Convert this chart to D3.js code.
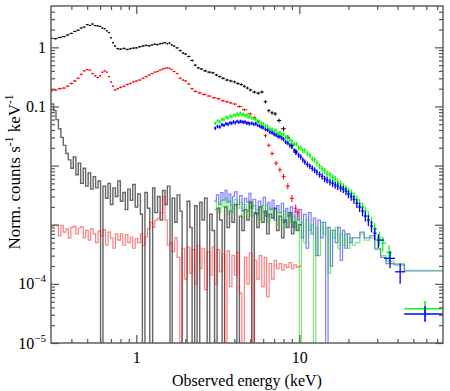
<!DOCTYPE html>
<html><head><meta charset="utf-8">
<script src="https://cdn.jsdelivr.net/npm/d3@7"></script>
<style>body{margin:0;background:#fff}svg{display:block}</style>
</head><body><svg id="c" width="450" height="391"></svg>
<script>
// ---------- DATA ----------
const blackE=[0.30,0.32,0.34,0.36,0.38,0.40,0.42,0.44,0.46,0.48,0.50,0.52,0.54,0.56,0.58,0.60,0.62,0.64,0.66,0.68,0.70,0.72,0.74,0.77,0.80,0.84,0.88,0.92,0.96,1.00,1.05,1.10,1.15,1.20,1.25,1.30,1.35,1.40,1.45,1.50,1.55,1.60,1.65,1.70,1.78,1.86,1.94,2.00,2.10,2.20,2.30,2.40,2.50,2.65,2.80,2.95,3.10,3.25,3.40,3.60,3.80,4.00,4.20,4.40,4.60,4.80,5.00,5.30,5.60,5.90,6.20,6.50,6.80,7.10,7.50,8.00,8.50,9.00,9.50];
const blackV=[1.42,1.40,1.47,1.52,1.62,1.72,1.86,1.95,2.12,2.2,2.42,2.35,2.48,2.33,2.3,2.26,2.12,2.06,1.9,1.78,1.45,1.2,1.05,0.95,0.93,0.96,0.92,0.95,0.97,0.98,1.02,1.05,1.08,1.06,1.1,1.13,1.11,1.15,1.17,1.2,1.15,1.18,1.1,1.05,0.98,0.88,0.8,0.77,0.7,0.6,0.5,0.45,0.43,0.40,0.38,0.37,0.34,0.32,0.30,0.28,0.27,0.26,0.245,0.235,0.22,0.205,0.19,0.175,0.168,0.176,0.12,0.085,0.078,0.075,0.058,0.042,0.03,0.022,0.017];

const redE=[0.30,0.32,0.34,0.36,0.38,0.40,0.42,0.44,0.46,0.48,0.50,0.52,0.54,0.56,0.58,0.60,0.62,0.64,0.66,0.68,0.70,0.72,0.74,0.77,0.80,0.84,0.88,0.92,0.96,1.00,1.05,1.10,1.15,1.20,1.25,1.30,1.35,1.40,1.45,1.50,1.55,1.60,1.65,1.70,1.78,1.86,1.94,2.00,2.10,2.20,2.30,2.45,2.60,2.80,3.00,3.20,3.40,3.60,3.80,4.00,4.30,4.60,5.00,5.30,5.60,5.90,6.20,6.50,6.80,7.20,7.60,8.00,8.50,9.00,9.50,9.80];
const redV=[0.185,0.19,0.2,0.205,0.22,0.245,0.27,0.30,0.35,0.40,0.42,0.41,0.36,0.33,0.31,0.33,0.38,0.40,0.38,0.32,0.26,0.22,0.19,0.2,0.21,0.22,0.235,0.245,0.26,0.27,0.28,0.30,0.32,0.34,0.36,0.38,0.39,0.41,0.43,0.44,0.45,0.44,0.42,0.39,0.36,0.30,0.28,0.27,0.24,0.2,0.18,0.17,0.16,0.15,0.14,0.135,0.125,0.12,0.115,0.11,0.10,0.088,0.075,0.065,0.055,0.045,0.032,0.022,0.016,0.011,0.0085,0.0065,0.0045,0.0028,0.0019,0.0016];

const greenE=[3.05,3.15,3.25,3.35,3.45,3.55,3.65,3.75,3.85,3.95,4.05,4.15,4.25,4.35,4.45,4.55,4.65,4.75,4.85,4.95,5.1,5.25,5.4,5.55,5.7,5.85,6.0,6.2,6.4,6.6,6.8,7.0,7.2,7.4,7.6,7.8,8.0,8.25,8.5,8.75,9.0,9.3,9.6,9.9,10.2,10.5,10.8,11.2,11.6,12.0,12.4,12.8,13.3,13.8,14.3,14.8,15.4,16.0,16.6,17.2,17.9,18.6,19.3,20.0,20.8,21.6,22.5,23.4,24.4,25.4,26.5,27.7,29.0,31.0,32.5,35.5];
const greenV=[0.052,0.057,0.055,0.061,0.06,0.066,0.064,0.069,0.067,0.072,0.07,0.075,0.073,0.077,0.072,0.074,0.07,0.071,0.066,0.068,0.064,0.062,0.06,0.057,0.056,0.052,0.051,0.047,0.046,0.042,0.041,0.038,0.039,0.035,0.036,0.033,0.034,0.03,0.029,0.027,0.026,0.023,0.023,0.02,0.02,0.018,0.018,0.016,0.015,0.013,0.0125,0.011,0.0098,0.0088,0.0082,0.0073,0.007,0.0063,0.0059,0.0053,0.0049,0.0044,0.0041,0.0037,0.0034,0.003,0.0027,0.0023,0.002,0.0017,0.0014,0.0011,0.00085,0.0006,0.00049,0.00034];

const blueE=[3.05,3.15,3.25,3.35,3.45,3.55,3.65,3.75,3.85,3.95,4.05,4.15,4.25,4.35,4.45,4.55,4.65,4.75,4.85,4.95,5.1,5.25,5.4,5.55,5.7,5.85,6.0,6.2,6.4,6.6,6.8,7.0,7.2,7.4,7.6,7.8,8.0,8.25,8.5,8.75,9.0,9.3,9.6,9.9,10.2,10.5,10.8,11.2,11.6,12.0,12.4,12.8,13.3,13.8,14.3,14.8,15.4,16.0,16.6,17.2,17.9,18.6,19.3,20.0,20.8,21.6,22.5,23.4,24.4,25.4,26.5,27.7,29.0,30.5,36.0,41.5];
const blueV=[0.043,0.046,0.045,0.049,0.048,0.051,0.05,0.053,0.052,0.055,0.053,0.056,0.054,0.056,0.055,0.054,0.055,0.052,0.053,0.051,0.052,0.05,0.051,0.048,0.047,0.045,0.044,0.041,0.04,0.037,0.036,0.034,0.033,0.031,0.031,0.029,0.028,0.025,0.024,0.022,0.021,0.018,0.017,0.015,0.014,0.0125,0.0115,0.0105,0.0098,0.009,0.0084,0.0078,0.0071,0.0066,0.006,0.0057,0.0053,0.005,0.0047,0.0045,0.0042,0.004,0.0037,0.0033,0.003,0.0027,0.0023,0.002,0.0017,0.0014,0.0012,0.00095,0.00072,0.00055,0.00027,0.00016];

// wide high-energy bins (edges and values)
const hiLo=[44], hiHi=[76], hiMid=[59];
const greenHiV=[3.8e-5], blueHiV=[3.1e-5];

// background spectra: bin edges (keV) and values (0 = empty bin)
const softE=[0.300,0.311,0.322,0.333,0.345,0.357,0.370,0.383,0.397,0.411,0.426,0.441,0.456,0.473,0.489,0.507,0.525,0.544,0.563,0.583,0.604,0.625,0.648,0.671,0.694,0.719,0.745,0.771,0.799,0.827,0.857,0.887,0.919,0.951,0.985,1.02,1.06,1.09,1.13,1.17,1.21,1.26,1.30,1.35,1.40,1.45,1.50,1.55,1.61,1.66,1.72,1.78,1.85,1.91,1.98,2.05,2.13,2.20,2.28,2.36,2.45,2.53,2.62,2.72,2.82,2.92,3.02,3.13,3.24,3.36,3.48,3.60,3.73,3.86,4.00,4.14,4.29,4.44,4.60,4.76,4.93,5.11,5.29,5.48,5.67,5.88,6.09,6.30,6.53,6.76,7.00,7.25,7.51,7.78,8.05,8.34,8.64,8.95,9.26,9.59,9.94,10.3];
const grayBgV=[0.11,0.085,0.06,0.042,0.03,0.022,0.016,0.0125,0.009,0.014,0.007,0.011,0.005,0.009,0.0045,0.0075,0.004,0.0065,0.0042,0.0055,0,0.0045,0.0028,0.005,0.0022,0.0042,0.003,0.0055,0.0025,0.0035,0.0018,0.004,0.0026,0.0048,0.002,0.0033,0.0015,0,0.0035,0.0019,0,0.0042,0.0016,0.003,0.0012,0.0038,0.0022,0.0045,0,0.0028,0.0011,0.0032,0.0017,0,0,0.0025,0.0009,0,0.0021,0,0.0024,0.0012,0.0028,0,0.0015,0.0008,0,0.0019,0.0012,0,0.002,0.0009,0.0017,0.0011,0.0022,0,0.0014,0.0008,0.0018,0.0012,0.0024,0,0.0016,0.0009,0.002,0.0011,0.0017,0.0007,0.0015,0.0013,0.0019,0.0008,0.0014,0.0006,0.0012,0.0009,0.0016,0.0007,0.0011,0.0008,0.001];
const redBgV=[0.00095,0.001,0.00098,0.00065,0.00098,0.00075,0.00085,0.0006,0.0009,0.00095,0.0007,0.00088,0.00092,0.0006,0.0008,0.00055,0.00085,0.0007,0.0005,0.00078,0.00065,0.00082,0.00045,0.00075,0.0006,0.0004,0.0007,0.00055,0.0007,0.00045,0.00068,0.0005,0.00062,0.0004,0.00058,0.0005,0.0007,0.00045,0.00062,0.00085,0.0011,0.0009,0.0012,0.0013,0.0016,0.003,0.0012,0.00045,0.0005,0.00035,0.0006,0.00028,0,0.0004,0.00012,0.00042,0.00015,0.00038,0.0001,0.00045,0.00018,0.0004,0.00008,0.00035,0.00014,0.00042,0.0001,0.00038,0.00016,0.00032,0,0.00036,0.00009,0.0003,0.00014,0.00034,0.00007,0,0.00028,0.0001,0.00033,0,0.00025,0.00012,0.0003,0.00009,0.00028,0.00006,0.00022,0.00012,0.00025,0.00018,0.00022,0.00017,0.00021,0.00019,0.00023,0.00018,0.00021,0.00019,0.0002];

const hardE=[3.0,3.1,3.2,3.3,3.4,3.5,3.6,3.7,3.8,3.9,4.0,4.15,4.3,4.45,4.6,4.75,4.9,5.05,5.2,5.4,5.6,5.8,6.0,6.2,6.4,6.6,6.8,7.0,7.25,7.5,7.75,8.0,8.25,8.5,8.8,9.1,9.4,9.7,10.0,10.3,10.6,11.0,11.4,11.8,12.2,12.6,13.0,13.5,14.0,14.5,15.0,15.5,16.0,16.6,17.2,17.8,18.4,19.0,19.7,20.4,21.1,22.0,23.5,25.0,27.0,29.0,31.5,34.0,38.0,44.0,76.0];
const blueBgV=[0.0025,0.0032,0.0022,0.0035,0.0026,0.0038,0.0024,0.0033,0.0018,0.003,0.0036,0.0022,0.0031,0.0017,0.0028,0.0024,0.0034,0.0019,0.0027,0.0015,0.0025,0.0021,0.0029,0.0014,0.0024,0.0018,0.0026,0.0012,0.0021,0.0016,0.0023,0.0011,0.0019,0.0014,0.002,0.0009,0.0017,0.0012,0.0018,0.0006,0.0015,0.0004,0.0016,0.0007,0.0013,0.0003,0.0012,0.0006,0.0011,0,0.0009,0.0002,0.0008,0.0005,0.0009,0.00025,0.0008,0.0004,0.0007,0.0005,0.0006,0.0006,0.00075,0.0006,0.00065,0.0004,0.00028,0.00022,0.00021,0.000165];
const greenBgV=[0.0018,0.0024,0.0016,0.0026,0.002,0.0028,0.0015,0.0025,0.0021,0.0016,0.0027,0.0019,0.0024,0.0013,0.0022,0.0017,0.0025,0.0014,0.0021,0.0018,0.0012,0.002,0.0016,0.0022,0.0011,0.0019,0.0014,0.0018,0.001,0.0016,0.0012,0.0017,0.0009,0.0015,0.0011,0.0014,0.0008,0.0013,0,0.0011,0.0005,0.0012,0.0008,0.001,0,0.0009,0.0003,0.0011,0.0007,0.0009,0.00015,0.0008,0.0006,0.0009,0.0004,0.0007,0.00045,0.0007,0.0004,0.0006,0.00045,0.0005,0.0007,0.00055,0.0006,0.00038,0.0003,0.00024,0.00022,0.00017];

// tick values
const xMajor=[1,10];
const xMinor=[0.4,0.5,0.6,0.7,0.8,0.9,2,3,4,5,6,7,8,9,20,30,40,50,60,70];
const yMajor=[1e-5,1e-4,1e-3,1e-2,0.1,1];
const yMinor=[2e-5,3e-5,4e-5,5e-5,6e-5,7e-5,8e-5,9e-5,2e-4,3e-4,4e-4,5e-4,6e-4,7e-4,8e-4,9e-4,2e-3,3e-3,4e-3,5e-3,6e-3,7e-3,8e-3,9e-3,0.02,0.03,0.04,0.05,0.06,0.07,0.08,0.09,0.2,0.3,0.4,0.5,0.6,0.7,0.8,0.9,2,3,4];
const yLabels=[{v:1,base:"1",exp:""},{v:0.1,base:"0.1",exp:""},{v:1e-4,base:"10",exp:"\u22124"},{v:1e-5,base:"10",exp:"\u22125"}];

// ---------- CHART ----------
const L=51,R=443,T=6,B=343;
const FONT="'Liberation Serif','Times New Roman',serif";
const AX="#555";
const svg=d3.select("#c");
const x=d3.scaleLog().domain([0.3,76]).range([L,R]);
const y=d3.scaleLog().domain([1e-5,5]).range([B,T]).clamp(true);
const yv=v=>v>0?y(v):B+2;

svg.append("defs").append("clipPath").attr("id","pc").append("rect")
  .attr("x",L).attr("y",T).attr("width",R-L).attr("height",B-T);
const g=svg.append("g").attr("clip-path","url(#pc)");

function stepLine(edges,vals,color,op,w){
  const n=Math.min(edges.length-1,vals.length);
  const pts=[];
  for(let i=0;i<n;i++)pts.push([edges[i],vals[i]]);
  pts.push([edges[n],vals[n-1]]);
  const line=d3.line().x(d=>x(d[0])).y(d=>yv(d[1])).curve(d3.curveStepAfter);
  g.append("path").attr("d",line(pts)).attr("fill","none")
    .attr("stroke",color).attr("stroke-opacity",op).attr("stroke-width",w);
}
function points(E,V,color,err,w){
  const n=Math.min(E.length,V.length);
  const grp=g.append("g").attr("stroke",color).attr("stroke-width",w);
  for(let i=0;i<n;i++){
    const lo=i>0?Math.sqrt(E[i-1]*E[i]):E[i]*Math.sqrt(E[i]/E[i+1]);
    const hi=i<n-1?Math.sqrt(E[i]*E[i+1]):E[i]*Math.sqrt(E[i]/E[i-1]);
    const e=Math.min(0.6,err*Math.pow(V[0]/V[i],0.3));
    grp.append("line").attr("x1",x(lo)).attr("x2",x(hi)).attr("y1",y(V[i])).attr("y2",y(V[i]));
    grp.append("line").attr("x1",x(E[i])).attr("x2",x(E[i])).attr("y1",y(V[i]*(1+e))).attr("y2",y(V[i]*(1-e)));
  }
}
function wide(lo,hi,mid,V,color,w){
  const grp=g.append("g").attr("stroke",color).attr("stroke-width",w);
  for(let i=0;i<V.length;i++){
    grp.append("line").attr("x1",x(lo[i])).attr("x2",x(hi[i])).attr("y1",y(V[i])).attr("y2",y(V[i]));
    grp.append("line").attr("x1",x(mid[i])).attr("x2",x(mid[i])).attr("y1",y(V[i]*1.35)).attr("y2",y(V[i]/1.35));
  }
}

// backgrounds
stepLine(softE,grayBgV,"#000",0.6,1.4);
stepLine(softE,redBgV,"#f00",0.5,1.2);
stepLine(hardE,blueBgV,"#00f",0.5,1.2);
stepLine(hardE,greenBgV,"#0c0",0.5,1.2);
// source data
points(blackE,blackV,"#000",0.03,1);
points(redE,redV,"#f00",0.04,1);
points(greenE,greenV,"#0f0",0.07,1.3);
points(blueE,blueV,"#00f",0.07,1.3);
wide(hiLo,hiHi,hiMid,greenHiV,"#0f0",1.6);
wide(hiLo,hiHi,hiMid,blueHiV,"#00f",1.6);

// axes (ticks inside, all four sides)
function ticks(axis,tr){
  const a=svg.append("g").attr("transform",tr).call(axis);
  a.select(".domain").remove();
  a.selectAll("line").attr("stroke",AX).attr("stroke-width",1.2);
  return a;
}
ticks(d3.axisBottom(x).tickValues(xMinor).tickSize(-4).tickFormat(""),`translate(0,${B})`);
const xb=ticks(d3.axisBottom(x).tickValues(xMajor).tickSize(-8).tickPadding(9).tickFormat(d3.format("d")),`translate(0,${B})`);
xb.selectAll("text").attr("font-family",FONT).attr("font-size",16).attr("fill","#000");
ticks(d3.axisTop(x).tickValues(xMinor).tickSize(-4).tickFormat(""),`translate(0,${T})`);
ticks(d3.axisTop(x).tickValues(xMajor).tickSize(-8).tickFormat(""),`translate(0,${T})`);
ticks(d3.axisLeft(y).tickValues(yMinor).tickSize(-4).tickFormat(""),`translate(${L},0)`);
ticks(d3.axisLeft(y).tickValues(yMajor).tickSize(-8).tickFormat(""),`translate(${L},0)`);
ticks(d3.axisRight(y).tickValues(yMinor).tickSize(-4).tickFormat(""),`translate(${R},0)`);
ticks(d3.axisRight(y).tickValues(yMajor).tickSize(-8).tickFormat(""),`translate(${R},0)`);

svg.append("rect").attr("x",L).attr("y",T).attr("width",R-L).attr("height",B-T)
  .attr("fill","none").attr("stroke",AX).attr("stroke-width",1.4);

// y tick labels
yLabels.forEach(d=>{
  const t=svg.append("text").attr("x",46).attr("y",y(d.v)+5.5)
    .attr("text-anchor","end").attr("font-family",FONT).attr("font-size",16).attr("fill","#000");
  t.append("tspan").text(d.base);
  if(d.exp)t.append("tspan").attr("dy",-7).attr("font-size",11).text(d.exp);
});

// axis titles
svg.append("text").attr("x",(L+R)/2).attr("y",386).attr("text-anchor","middle")
  .attr("font-family",FONT).attr("font-size",16).attr("fill","#000").text("Observed energy (keV)");
const yt=svg.append("text").attr("transform","translate(20,172) rotate(-90)").attr("text-anchor","middle")
  .attr("font-family",FONT).attr("font-size",17).attr("fill","#000");
yt.append("tspan").text("Norm. counts s");
yt.append("tspan").attr("dy",-7).attr("font-size",11.5).text("-1");
yt.append("tspan").attr("dy",7).text(" keV");
yt.append("tspan").attr("dy",-7).attr("font-size",11.5).text("-1");
</script></body></html>
